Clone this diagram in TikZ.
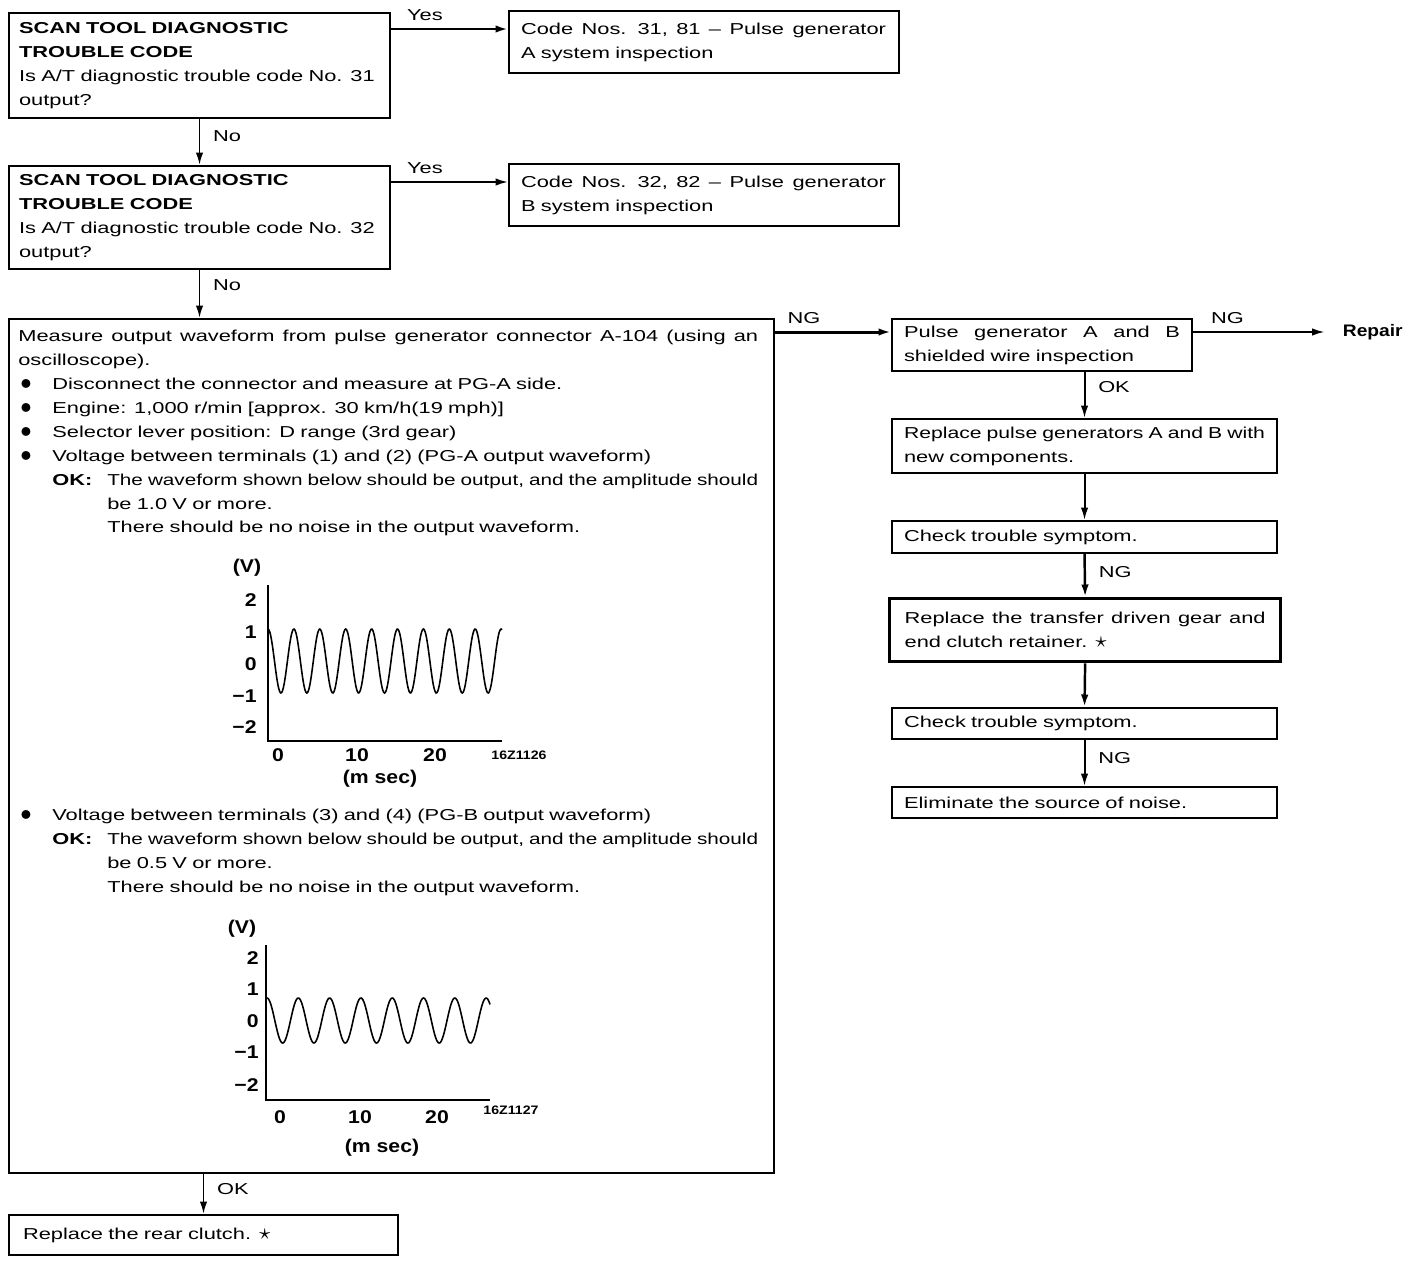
\documentclass[tikz,border=0pt]{standalone}
\usepackage{fontspec}
\setmainfont[FakeStretch=1.38]{Liberation Sans}
\newfontfamily\grfont[FakeStretch=1.15]{Liberation Sans}
\usepackage{graphicx}
\usetikzlibrary{arrows.meta,positioning,calc}

% squeeze or spread one line to a given width
\newsavebox\fitbox
\newcommand\fitto[2]{\leavevmode\sbox\fitbox{#2}\ifdim\wd\fitbox>#1\relax\resizebox{#1}{\height}{\usebox\fitbox}\else\hbox to #1{#2}\fi}
\newcommand\blt{\hspace*{0.04cm}\makebox[0.64cm][l]{\scalebox{1.4}{$\bullet$}}}
\newcommand\okind{\hspace*{0.68cm}\makebox[1.1cm][l]{\textbf{OK:}}}
\newcommand\mstar{\scalebox{1.4}{$\star$}}

\begin{document}
\begin{tikzpicture}[
  x=0.02cm, y=-0.02cm,
  font=\fontsize{9}{13.6}\selectfont,
  box/.style={draw, line width=1.2pt, anchor=north west, inner sep=0pt, align=left},
  txt/.style={anchor=north west, inner sep=0pt, align=left},
  arr/.style={-{Latex[length=2.5mm,width=1.5mm]}, line width=1.1pt},
  lbl/.style={inner sep=1pt},
  axis/.style={line width=1.2pt},
  wave/.style={line width=0.9pt},
  glbl/.style={font=\grfont\bfseries\fontsize{10.5}{12}\selectfont, inner sep=0pt},
  gcode/.style={font=\grfont\bfseries\fontsize{7}{8}\selectfont, inner sep=0pt}
]
\path[use as bounding box, fill=white] (0,0) rectangle (1408,1262);

% left column
\node[box, minimum width=7.62cm, minimum height=2.10cm, text width=7.22cm] (q1) at (8,12)
  {\textbf{SCAN TOOL DIAGNOSTIC}\\\textbf{TROUBLE CODE}\\Is A/T diagnostic trouble code No. 31\\output?};
\node[box, minimum width=7.80cm, minimum height=1.24cm, text width=7.32cm] (a1) at (508,10)
  {\fitto{7.3cm}{Code \hfill Nos. \hfill 31, \hfill 81 \hfill -- \hfill Pulse \hfill generator}\\A system inspection};
\node[box, minimum width=7.62cm, minimum height=2.06cm, text width=7.22cm] (q2) at (8,165)
  {\textbf{SCAN TOOL DIAGNOSTIC}\\\textbf{TROUBLE CODE}\\Is A/T diagnostic trouble code No. 32\\output?};
\node[box, minimum width=7.80cm, minimum height=1.24cm, text width=7.32cm] (a2) at (508,163)
  {\fitto{7.3cm}{Code \hfill Nos. \hfill 32, \hfill 82 \hfill -- \hfill Pulse \hfill generator}\\B system inspection};
\node[box, minimum width=15.30cm, minimum height=17.08cm] (meas) at (8,318) {};
\node[txt, text width=14.8cm] (measa) at (18,330)
  {\fitto{14.8cm}{Measure \hfill output \hfill waveform \hfill from \hfill pulse \hfill generator \hfill connector \hfill A-104 \hfill (using \hfill an}\\
   oscilloscope).\\
   \blt Disconnect the connector and measure at PG-A side.\\
   \blt Engine: 1,000 r/min [approx. 30 km/h(19 mph)]\\
   \blt Selector lever position: D range (3rd gear)\\
   \blt Voltage between terminals (1) and (2) (PG-A output waveform)\\
   \okind\fitto{13.02cm}{The waveform shown below should be output, and the amplitude should}\\
   \hspace*{1.78cm}be 1.0 V or more.\\
   \hspace*{1.78cm}There should be no noise in the output waveform.};
\node[txt, text width=14.8cm] (measb) at (18,809)
  {\blt Voltage between terminals (3) and (4) (PG-B output waveform)\\
   \okind\fitto{13.02cm}{The waveform shown below should be output, and the amplitude should}\\
   \hspace*{1.78cm}be 0.5 V or more.\\
   \hspace*{1.78cm}There should be no noise in the output waveform.};
\node[box, minimum width=7.78cm, minimum height=0.80cm, text width=7.22cm] (rear) at (8,1214)
  {Replace the rear clutch. \mstar};

% right column
\node[box, minimum width=6.00cm, minimum height=1.04cm, text width=5.52cm] (pg) at (891,318)
  {\fitto{5.52cm}{Pulse \hfill generator \hfill A \hfill and \hfill B}\\shielded wire inspection};
\node[anchor=east, inner sep=0pt, font=\grfont\bfseries\fontsize{9.5}{11}\selectfont] (rpr) at (1403,332) {Repair};
\node[box, minimum width=7.70cm, minimum height=1.08cm, text width=7.22cm] (rep) at (891,418)
  {\fitto{7.22cm}{Replace pulse generators A and B with}\\new components.};
\node[box, minimum width=7.70cm, minimum height=0.64cm, text width=7.22cm] (chk1) at (891,520)
  {Check trouble symptom.};
\node[box, line width=1.9pt, minimum width=7.82cm, minimum height=1.26cm, text width=7.22cm] (tdg) at (888,597)
  {\fitto{7.22cm}{Replace \hfill the \hfill transfer \hfill driven \hfill gear \hfill and}\\end clutch retainer. \mstar};
\node[box, minimum width=7.70cm, minimum height=0.62cm, text width=7.22cm] (chk2) at (891,707)
  {Check trouble symptom.};
\node[box, minimum width=7.70cm, minimum height=0.62cm, text width=7.22cm] (elim) at (891,786)
  {Eliminate the source of noise.};

% connectors
\coordinate (y1) at ([yshift=-0.34cm]q1.north east);
\coordinate (y2) at ([yshift=-0.34cm]q2.north east);
\coordinate (n1) at ([yshift=-0.28cm]pg.north west);
\coordinate (n2) at ([yshift=-0.28cm]pg.north east);
\draw[arr, line width=1.7pt] (y1) -- (y1 -| a1.west) node[lbl, pos=0.29, above=3pt] {Yes};
\draw[arr] (y2) -- (y2 -| a2.west) node[lbl, pos=0.29, above=3pt] {Yes};
\draw[arr] (q1.south) -- (q2.north) node[lbl, pos=0.38, right=0.22cm] {No};
\draw[arr] (q2.south) -- (q2.south |- meas.north) node[lbl, pos=0.32, right=0.22cm] {No};
\draw[arr, line width=1.7pt] (n1 -| meas.east) -- (n1) node[lbl, pos=0.25, above=3pt] {NG};
\draw[arr, shorten >=0.36cm] (n2) -- (n2 -| rpr.west) node[lbl, pos=0.23, above=3pt] {NG};
\draw[arr] (rep.north |- pg.south) -- (rep.north) node[lbl, pos=0.33, right=0.22cm] {OK};
\draw[arr] (rep.south) -- (chk1.north);
\draw[arr, line width=1.4pt] (chk1.south) -- (tdg.north) node[lbl, pos=0.42, right=0.22cm] {NG};
\draw[arr, line width=1.4pt] (tdg.south) -- (chk2.north);
\draw[arr] (chk2.south) -- (elim.north) node[lbl, pos=0.38, right=0.22cm] {NG};
\draw[arr] (rear.north |- meas.south) -- (rear.north) node[lbl, pos=0.38, right=0.22cm] {OK};

% waveform PG-A
\draw[axis] (268,585) -- (268,741) -- (502,741);
\draw[wave] plot[domain=268:502, samples=260, smooth] (\x, {661-32*cos(13.9*(\x-268))});
\node[glbl] (gav) at (247,568) {(V)};
\foreach \v/\yy in {2/600,1/632,0/664,−1/696,−2/727}
  \node[glbl, anchor=east] (ga\yy) at (257,\yy) {\v};
\foreach \t/\xx in {0/278,10/357,20/435}
  \node[glbl] (gat\t) at (\xx,755) {\t};
\node[gcode] (gacode) at (519,755) {16Z1126};
\node[glbl] (gams) at (380,779) {(m sec)};

% waveform PG-B
\draw[axis] (266,945) -- (266,1100) -- (490,1100);
\draw[wave] plot[domain=266:490, samples=260, smooth] (\x, {1020.5-22.5*cos(11.5*(\x-267))});
\node[glbl] (gbv) at (242,929) {(V)};
\foreach \v/\yy in {2/958,1/989,0/1021,−1/1052,−2/1085}
  \node[glbl, anchor=east] (gb\yy) at (259,\yy) {\v};
\foreach \t/\xx in {0/280,10/360,20/437}
  \node[glbl] (gbt\t) at (\xx,1117) {\t};
\node[gcode] (gbcode) at (511,1110) {16Z1127};
\node[glbl] (gbms) at (382,1148) {(m sec)};
\end{tikzpicture}
\end{document}
